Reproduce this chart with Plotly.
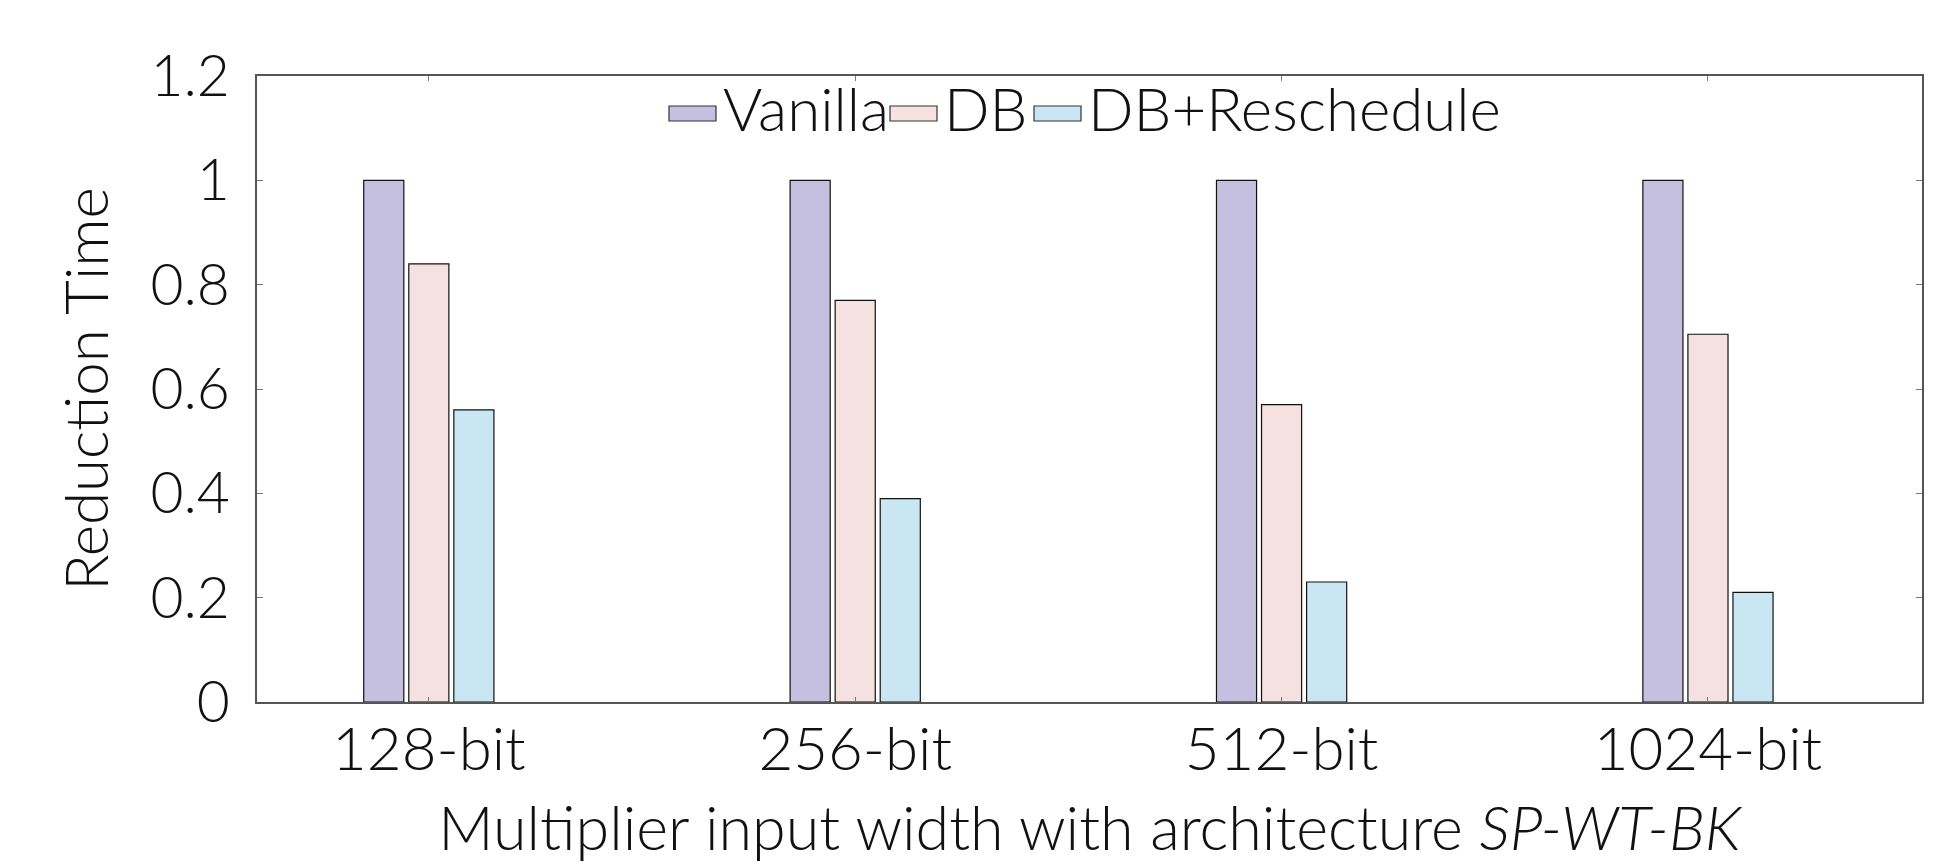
import plotly.graph_objects as go

categories = ["128-bit", "256-bit", "512-bit", "1024-bit"]
series_names = ["Vanilla", "DB", "DB+Reschedule"]
vanilla = [1.0, 1.0, 1.0, 1.0]
db = [0.84, 0.77, 0.57, 0.705]
db_resched = [0.56, 0.39, 0.23, 0.21]
y_ticks = [0, 0.2, 0.4, 0.6, 0.8, 1, 1.2]
y_ticktext = ["0", "0.2", "0.4", "0.6", "0.8", "1", "1.2"]

colors = ["#c5bfe0", "#f6e1e1", "#c9e6f3"]
FONT = "Lato"

FIG_W, FIG_H = 1949, 864
L, R, T, B = 257, 1922, 76, 702  # plot area in pixels
W, H = R - L, B - T

fig = go.Figure()
for name, vals, col in zip(series_names, [vanilla, db, db_resched], colors):
    fig.add_trace(go.Bar(
        x=categories, y=vals, name=name,
        marker=dict(color=col, line=dict(color="#111111", width=1.2)),
        showlegend=False,
    ))

# manual legend (wide keys like the reference)
key_specs = [(669, 716, 721), (890, 937, 942), (1034, 1081, 1086)]
for (x0, x1, tx), name, col in zip(key_specs, series_names, colors):
    fig.add_shape(type="rect", xref="paper", yref="paper",
                  x0=(x0 - L) / W, x1=(x1 - L) / W,
                  y0=(B - 121) / H, y1=(B - 106) / H,
                  fillcolor=col, line=dict(color="#333333", width=1.2))
    fig.add_annotation(xref="paper", yref="paper", x=(tx - L) / W, y=(B - 108) / H,
                       text=name, showarrow=False, xanchor="left", yanchor="middle",
                       font=dict(family=FONT, size=60, color="#111111", weight=300))

fig.update_layout(
    width=FIG_W, height=FIG_H,
    margin=dict(l=L, r=FIG_W - R, t=T, b=FIG_H - B, pad=0),
    paper_bgcolor="white", plot_bgcolor="white",
    barmode="group", bargap=0.683, bargroupgap=0.11,
    font=dict(family=FONT, size=58, color="#111111", weight=300),
    xaxis=dict(
        range=[-0.403, 3.502],
        showline=True, linecolor="#555555", linewidth=1.5, mirror="ticks",
        ticks="inside", ticklen=5, tickcolor="#777777", tickwidth=1,
        tickfont=dict(family=FONT, size=60, weight=300),
        ticklabelstandoff=-6,
        showgrid=False, zeroline=False,
        title=dict(text="Multiplier input width with architecture <i>SP-WT-BK</i>",
                   font=dict(family=FONT, size=61, weight=300), standoff=26),
    ),
    yaxis=dict(
        range=[0, 1.2], tickvals=y_ticks, ticktext=y_ticktext,
        showline=True, linecolor="#555555", linewidth=1.5, mirror="ticks",
        ticks="inside", ticklen=6, tickcolor="#777777", tickwidth=1,
        tickfont=dict(family=FONT, size=57, weight=300),
        ticklabelstandoff=14,
        showgrid=False, zeroline=False,
        title=dict(text="Reduction Time", font=dict(family=FONT, size=60, weight=300), standoff=22),
    ),
)

post = ("document.documentElement.style.margin='0';"
        "document.body.style.margin='0';"
        "document.body.style.overflow='hidden';"
        "document.documentElement.style.overflow='hidden';")
fig.write_html("out.html", post_script=post, config={"displayModeBar": False})
